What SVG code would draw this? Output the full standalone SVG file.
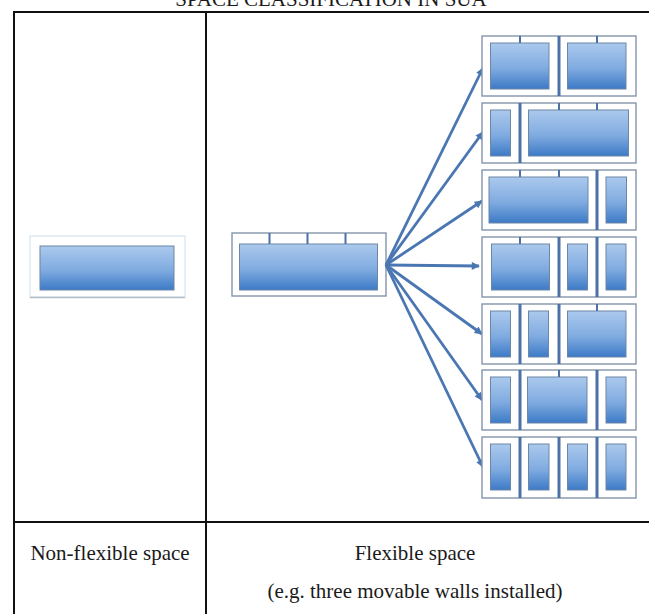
<svg xmlns="http://www.w3.org/2000/svg" width="649" height="614" viewBox="0 0 649 614">
<defs>
<linearGradient id="blue" x1="0" y1="0" x2="0" y2="1">
<stop offset="0" stop-color="#abc9ed"/>
<stop offset="0.55" stop-color="#80abe0"/>
<stop offset="1" stop-color="#3c7ac6"/>
</linearGradient>
<marker id="ah" viewBox="0 0 10 10" refX="9" refY="5" markerWidth="10" markerHeight="8" markerUnits="userSpaceOnUse" orient="auto">
<path d="M0,0 L10,5 L0,10 z" fill="#4a77b2"/>
</marker>
<style>
.tbl{stroke:#111;stroke-width:2;fill:none}
.txt{font-family:"Liberation Serif","Times New Roman",serif;fill:#1a1a1a}
.frame{fill:#fff;stroke:#8494ab;stroke-width:1.4}
.room{fill:url(#blue);stroke:#6c86a6;stroke-width:1}
.wall{stroke:#4b71a6;stroke-width:3}
.tick{stroke:#4b71a6;stroke-width:2}
.arr{stroke:#4a77b2;stroke-width:2.8;fill:none;marker-end:url(#ah)}
</style>
</defs>
<rect width="649" height="614" fill="#fff"/>
<text class="txt" x="331" y="6" font-size="21" text-anchor="middle">SPACE CLASSIFICATION IN SUA</text>
<g id="table">
<line class="tbl" x1="13" y1="12" x2="649" y2="12"/>
<line class="tbl" x1="14" y1="11" x2="14" y2="614"/>
<line class="tbl" x1="206" y1="11" x2="206" y2="614"/>
<line class="tbl" x1="13" y1="522" x2="649" y2="522"/>
</g>
<g id="nonflex">
<rect x="30" y="236" width="155" height="61" fill="#fff" stroke="#d8e4f1" stroke-width="1.2"/>
<line x1="30" y1="297.5" x2="185" y2="297.5" stroke="#b4bcc8" stroke-width="1.5"/>
<rect class="room" x="40" y="246" width="134" height="44"/>
</g>
<g id="flex">
<rect class="frame" x="232" y="233" width="154" height="63"/>
<rect class="room" x="239.5" y="244" width="138" height="46"/>
<line class="tick" x1="269.5" y1="233" x2="269.5" y2="244"/>
<line class="tick" x1="307.5" y1="233" x2="307.5" y2="244"/>
<line class="tick" x1="345.5" y1="233" x2="345.5" y2="244"/>
</g>
<g id="connectors">
<line class="arr" x1="386" y1="265" x2="483" y2="68"/>
<line class="arr" x1="386" y1="265" x2="483" y2="132"/>
<line class="arr" x1="386" y1="265" x2="482" y2="201"/>
<line class="arr" x1="386" y1="265" x2="479" y2="266"/>
<line class="arr" x1="386" y1="265" x2="482" y2="334"/>
<line class="arr" x1="386" y1="265" x2="482" y2="400"/>
<line class="arr" x1="386" y1="265" x2="483" y2="467"/>
</g>
<g id="row1">
<rect class="frame" x="482" y="36" width="154" height="60"/>
<rect class="room" x="490.5" y="43" width="58.5" height="46"/>
<rect class="room" x="567.5" y="43" width="58.5" height="46"/>
<line class="wall" x1="559" y1="36" x2="559" y2="96"/>
<line class="tick" x1="520" y1="36" x2="520" y2="43"/>
<line class="tick" x1="597" y1="36" x2="597" y2="43"/>
</g>
<g id="row2">
<rect class="frame" x="482" y="103" width="154" height="60"/>
<rect class="room" x="490.5" y="110" width="20" height="46"/>
<rect class="room" x="528.5" y="110" width="100" height="46"/>
<line class="wall" x1="520" y1="103" x2="520" y2="163"/>
<line class="tick" x1="559" y1="103" x2="559" y2="110"/>
<line class="tick" x1="597" y1="103" x2="597" y2="110"/>
</g>
<g id="row3">
<rect class="frame" x="482" y="170" width="154" height="60"/>
<rect class="room" x="489" y="177" width="99" height="46"/>
<rect class="room" x="606" y="177" width="20.5" height="46"/>
<line class="wall" x1="597" y1="170" x2="597" y2="230"/>
<line class="tick" x1="520" y1="170" x2="520" y2="177"/>
<line class="tick" x1="559" y1="170" x2="559" y2="177"/>
</g>
<g id="row4">
<rect class="frame" x="482" y="237" width="154" height="60"/>
<rect class="room" x="491.5" y="244" width="58" height="46"/>
<rect class="room" x="567.5" y="244" width="20" height="46"/>
<rect class="room" x="606" y="244" width="20" height="46"/>
<line class="wall" x1="559" y1="237" x2="559" y2="297"/>
<line class="wall" x1="597" y1="237" x2="597" y2="297"/>
<line class="tick" x1="520" y1="237" x2="520" y2="244"/>
</g>
<g id="row5">
<rect class="frame" x="482" y="304" width="154" height="60"/>
<rect class="room" x="490.5" y="311" width="20" height="46"/>
<rect class="room" x="528.5" y="311" width="20" height="46"/>
<rect class="room" x="567.5" y="311" width="58.5" height="46"/>
<line class="wall" x1="520" y1="304" x2="520" y2="364"/>
<line class="wall" x1="559" y1="304" x2="559" y2="364"/>
<line class="tick" x1="597" y1="304" x2="597" y2="311"/>
</g>
<g id="row6">
<rect class="frame" x="482" y="370" width="154" height="60"/>
<rect class="room" x="490.5" y="377" width="20" height="46"/>
<rect class="room" x="527.5" y="377" width="59.5" height="46"/>
<rect class="room" x="606" y="377" width="20" height="46"/>
<line class="wall" x1="520" y1="370" x2="520" y2="430"/>
<line class="wall" x1="597" y1="370" x2="597" y2="430"/>
<line class="tick" x1="559" y1="370" x2="559" y2="377"/>
</g>
<g id="row7">
<rect class="frame" x="482" y="437" width="154" height="61"/>
<rect class="room" x="490.5" y="444" width="20" height="46"/>
<rect class="room" x="528.5" y="444" width="20.5" height="46"/>
<rect class="room" x="567.5" y="444" width="20" height="46"/>
<rect class="room" x="606" y="444" width="20" height="46"/>
<line class="wall" x1="520" y1="437" x2="520" y2="498"/>
<line class="wall" x1="559" y1="437" x2="559" y2="498"/>
<line class="wall" x1="597" y1="437" x2="597" y2="498"/>
</g>
<g id="labels">
<text class="txt" x="110" y="560" font-size="21" text-anchor="middle">Non-flexible space</text>
<text class="txt" x="415" y="560" font-size="21" text-anchor="middle">Flexible space</text>
<text class="txt" x="415" y="598" font-size="21" text-anchor="middle">(e.g. three movable walls installed)</text>
</g>
</svg>
